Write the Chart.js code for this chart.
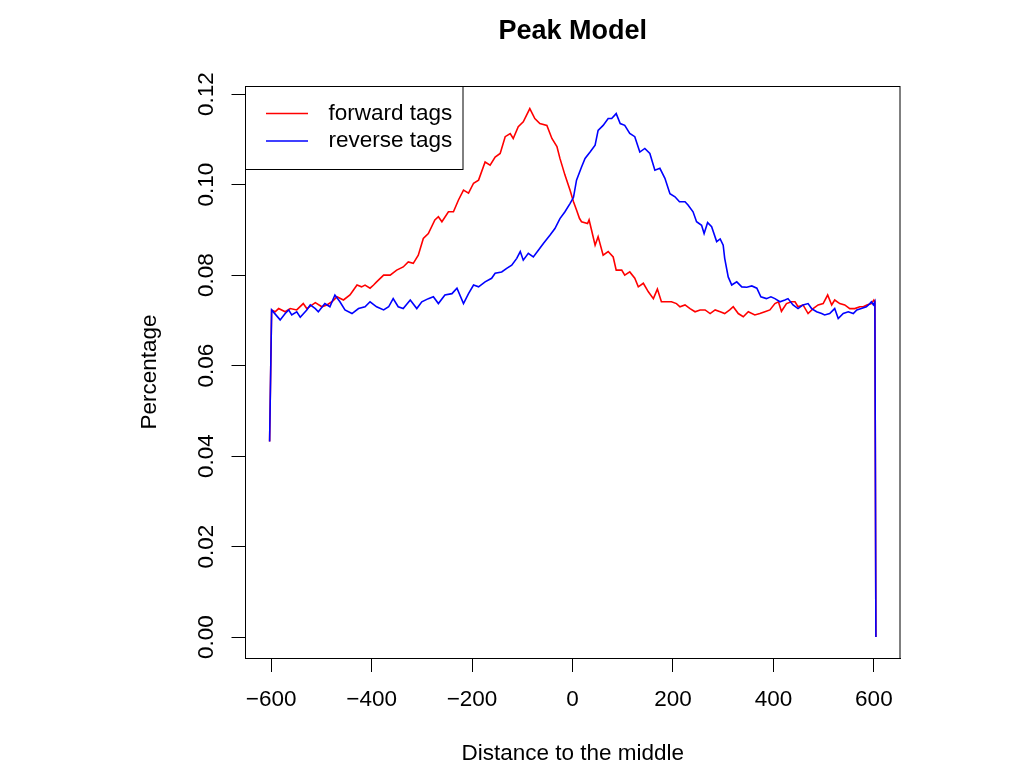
<!DOCTYPE html>
<html>
<head>
<meta charset="utf-8">
<title>Peak Model</title>
<script src="https://cdn.jsdelivr.net/npm/chart.js@4.4.1/dist/chart.umd.min.js"></script>
<style>
  html, body { margin: 0; padding: 0; background: #fff; }
  canvas { display: block; }
</style>
</head>
<body>
<canvas id="myChart" width="1034" height="776"></canvas>
<script>
// tick labels
var xTicks = [-600, -400, -200, 0, 200, 400, 600];
var yTicks = [0, 0.02, 0.04, 0.06, 0.08, 0.10, 0.12];

var seriesNames = ['forward tags', 'reverse tags'];
var seriesColors = ['#FF0000', '#0000FF'];

// forward tags (red)
var forwardX = [
  -603, -599, -592, -585, -572, -562, -549, -536, -529, -512,
  -499, -489, -479, -469, -456, -443, -436, -429, -420, -413,
  -403, -396, -390, -376, -363, -350, -337, -327, -317, -307,
  -297, -287, -274, -267, -260, -247, -237, -227, -217, -207,
  -197, -187, -174, -164, -154, -144, -134, -124, -118, -108,
  -98, -85, -75, -65, -51, -41, -31, -25, -15, -5,
  2, 8, 14, 18, 30, 33, 38, 45, 51, 61,
  71, 81, 87, 98, 104, 114, 124, 131, 141, 151,
  161, 169, 177, 187, 197, 207, 214, 224, 234, 244,
  254, 264, 274, 284, 294, 303, 313, 320, 330, 340,
  350, 363, 373, 383, 393, 403, 410, 416, 426, 436,
  443, 449, 459, 469, 479, 489, 499, 508, 516, 522,
  532, 542, 552, 562, 572, 579, 586, 595, 600, 602,
  604
];
var forwardY = [
  0.0432, 0.0723, 0.0719, 0.0726, 0.0719, 0.0726, 0.0723, 0.0737, 0.0726, 0.0739,
  0.0730, 0.0734, 0.0741, 0.0752, 0.0745, 0.0756, 0.0767, 0.0778, 0.0774, 0.0778,
  0.0771, 0.0778, 0.0785, 0.0800, 0.0800, 0.0811, 0.0818, 0.0829, 0.0826, 0.0844,
  0.0881, 0.0892, 0.0922, 0.0929, 0.0918, 0.0940, 0.0940, 0.0966, 0.0988, 0.0981,
  0.1003, 0.1010, 0.1050, 0.1043, 0.1061, 0.1069, 0.1106, 0.1113, 0.1102, 0.1128,
  0.1139, 0.1168, 0.1146, 0.1135, 0.1131, 0.1102, 0.1084, 0.1058, 0.1021, 0.0988,
  0.0962, 0.0944, 0.0925, 0.0918, 0.0914, 0.0922, 0.0899, 0.0866, 0.0885, 0.0844,
  0.0852, 0.0840, 0.0811, 0.0811, 0.0800, 0.0807, 0.0793, 0.0774, 0.0782, 0.0763,
  0.0748, 0.0769, 0.0741, 0.0741, 0.0741, 0.0737, 0.0730, 0.0734, 0.0726, 0.0719,
  0.0723, 0.0723, 0.0715, 0.0723, 0.0719, 0.0715, 0.0723, 0.0730, 0.0715, 0.0708,
  0.0719, 0.0712, 0.0715, 0.0719, 0.0723, 0.0737, 0.0741, 0.0720, 0.0737, 0.0741,
  0.0741, 0.0730, 0.0734, 0.0715, 0.0726, 0.0734, 0.0737, 0.0756, 0.0734, 0.0745,
  0.0737, 0.0734, 0.0726, 0.0726, 0.0730, 0.0730, 0.0734, 0.0737, 0.0745, 0.0741,
  0
];

// reverse tags (blue)
var reverseX = [
  -603, -599, -582, -572, -565, -559, -549, -542, -529, -522,
  -512, -506, -493, -483, -473, -463, -453, -439, -426, -413,
  -403, -390, -376, -366, -357, -347, -337, -323, -310, -300,
  -287, -277, -267, -254, -240, -230, -217, -207, -197, -187,
  -174, -161, -154, -141, -131, -121, -111, -104, -98, -88,
  -78, -68, -58, -45, -35, -25, -15, -5, 2, 8,
  18, 25, 35, 45, 51, 61, 71, 78, 87, 95,
  104, 114, 124, 134, 144, 154, 164, 174, 184, 194,
  204, 213, 224, 230, 240, 247, 257, 262, 269, 277,
  287, 294, 300, 303, 310, 317, 327, 337, 347, 357,
  367, 375, 386, 395, 403, 413, 423, 429, 439, 449,
  459, 469, 476, 486, 496, 502, 512, 522, 529, 539,
  549, 559, 566, 575, 585, 592, 595, 599, 602, 604
];
var reverseY = [
  0.0432, 0.0723, 0.0701, 0.0715, 0.0723, 0.0712, 0.0719, 0.0707, 0.0723, 0.0734,
  0.0726, 0.0719, 0.0737, 0.0730, 0.0756, 0.0741, 0.0723, 0.0715, 0.0726, 0.0730,
  0.0741, 0.0730, 0.0723, 0.0730, 0.0748, 0.0730, 0.0726, 0.0745, 0.0726, 0.0741,
  0.0748, 0.0752, 0.0737, 0.0756, 0.0759, 0.0771, 0.0737, 0.0759, 0.0778, 0.0774,
  0.0785, 0.0793, 0.0804, 0.0807, 0.0815, 0.0822, 0.0837, 0.0852, 0.0833, 0.0848,
  0.0840, 0.0855, 0.0870, 0.0888, 0.0903, 0.0925, 0.0940, 0.0958, 0.0972, 0.1010,
  0.1039, 0.1058, 0.1072, 0.1087, 0.1120, 0.1131, 0.1146, 0.1146, 0.1157, 0.1135,
  0.1131, 0.1113, 0.1106, 0.1072, 0.1080, 0.1069, 0.1032, 0.1036, 0.1014, 0.0980,
  0.0973, 0.0962, 0.0962, 0.0955, 0.0940, 0.0918, 0.0910, 0.0892, 0.0916, 0.0907,
  0.0874, 0.0880, 0.0866, 0.0837, 0.0796, 0.0778, 0.0785, 0.0774, 0.0773, 0.0776,
  0.0771, 0.0752, 0.0748, 0.0752, 0.0748, 0.0741, 0.0745, 0.0748, 0.0734, 0.0726,
  0.0734, 0.0737, 0.0726, 0.0719, 0.0715, 0.0712, 0.0715, 0.0726, 0.0704, 0.0715,
  0.0719, 0.0715, 0.0723, 0.0726, 0.0730, 0.0737, 0.0741, 0.0734, 0.0741, 0
];

var FONT = "'Liberation Sans', Arial, sans-serif";

function toPoints(xs, ys) {
  return xs.map(function (x, i) { return { x: x, y: ys[i] }; });
}

// R style box around the plot region
var boxPlugin = {
  id: 'plotBox',
  afterDraw: function (chart) {
    var a = chart.chartArea;
    var ctx = chart.ctx;
    ctx.save();
    ctx.strokeStyle = '#000';
    ctx.lineWidth = 1;
    ctx.strokeRect(a.left, Math.round(a.top) + 0.5, a.right - a.left, Math.round(a.bottom - a.top));
    ctx.restore();
  }
};

// legend in the top-left corner, with a box
var legendPlugin = {
  id: 'rLegend',
  afterDatasetsDraw: function (chart) {
    var a = chart.chartArea;
    var ctx = chart.ctx;
    var w = 217.5, h = 83;
    ctx.save();
    ctx.fillStyle = '#fff';
    ctx.fillRect(a.left, a.top, w, h);
    ctx.strokeStyle = '#000';
    ctx.lineWidth = 1;
    ctx.strokeRect(a.left, Math.round(a.top) + 0.5, w, h);
    seriesNames.forEach(function (name, i) {
      var y = a.top + 27.5 + i * 27.5;
      ctx.strokeStyle = seriesColors[i];
      ctx.lineWidth = 1.6;
      ctx.beginPath();
      ctx.moveTo(a.left + 20.5, y);
      ctx.lineTo(a.left + 62.5, y);
      ctx.stroke();
      ctx.fillStyle = '#000';
      ctx.font = '22.5px ' + FONT;
      ctx.textBaseline = 'middle';
      ctx.textAlign = 'left';
      ctx.fillText(name, a.left + 83, y);
    });
    ctx.restore();
  }
};

var ctx = document.getElementById('myChart').getContext('2d');

var myChart = new Chart(ctx, {
  type: 'line',
  data: {
    datasets: [
      {
        label: seriesNames[0],
        data: toPoints(forwardX, forwardY),
        borderColor: seriesColors[0],
        borderWidth: 1.6,
        pointRadius: 0,
        tension: 0,
        order: 1
      },
      {
        label: seriesNames[1],
        data: toPoints(reverseX, reverseY),
        borderColor: seriesColors[1],
        borderWidth: 1.6,
        pointRadius: 0,
        tension: 0,
        order: 0
      }
    ]
  },
  options: {
    responsive: false,
    animation: false,
    devicePixelRatio: 1,
    layout: { padding: { left: 0, right: 134, top: 0, bottom: 0 } },
    plugins: {
      legend: { display: false },
      tooltip: { enabled: false },
      title: {
        display: true,
        fullSize: false,
        text: 'Peak Model',
        color: '#000',
        font: { family: FONT, size: 27, weight: 'bold' },
        padding: { top: 15, bottom: 38.6 }
      }
    },
    scales: {
      x: {
        type: 'linear',
        min: -651,
        max: 652,
        afterBuildTicks: function (scale) {
          scale.ticks = xTicks.map(function (v) { return { value: v }; });
        },
        afterFit: function (scale) { scale.height = 118; },
        ticks: {
          autoSkip: false,
          maxRotation: 0,
          padding: 14.5,
          color: '#000',
          font: { family: FONT, size: 22.5 },
          callback: function (v) { return v < 0 ? '\u2212' + Math.abs(v) : String(v); }
        },
        grid: { drawOnChartArea: false, drawTicks: true, tickLength: 14, color: '#000', lineWidth: 1 },
        border: { display: true, color: '#000', width: 1 },
        title: {
          display: true,
          text: 'Distance to the middle',
          color: '#000',
          font: { family: FONT, size: 22.5 },
          padding: { top: 0, bottom: 8.5 }
        }
      },
      y: {
        type: 'linear',
        min: -0.00464,
        max: 0.1218,
        afterBuildTicks: function (scale) {
          scale.ticks = yTicks.map(function (v) { return { value: v }; });
        },
        afterFit: function (scale) { scale.width = 245.5; },
        ticks: {
          minRotation: 90,
          maxRotation: 90,
          crossAlign: 'center',
          padding: 3,
          color: '#000',
          font: { family: FONT, size: 22.5 },
          callback: function (v) { return v.toFixed(2); }
        },
        grid: { drawOnChartArea: false, drawTicks: true, tickLength: 14, color: '#000', lineWidth: 1 },
        border: { display: true, color: '#000', width: 1 },
        title: {
          display: true,
          text: 'Percentage',
          color: '#000',
          font: { family: FONT, size: 22.5 },
          padding: { top: 136.5, bottom: 0 }
        }
      }
    }
  },
  plugins: [boxPlugin, legendPlugin]
});
</script>
</body>
</html>
